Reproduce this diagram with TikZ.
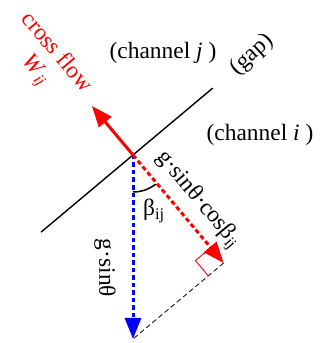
\documentclass[tikz,border=0pt]{standalone}
\usepackage{fontspec}
\setmainfont{Liberation Serif}
\usetikzlibrary{arrows.meta,calc}
\begin{document}
\begin{tikzpicture}[x=1bp,y=1bp,
  lbl/.style={font=\fontsize{23.5}{28}\selectfont, inner sep=0pt},
  redlbl/.style={lbl, text=red},
  bigtip/.style={-{Triangle[length=21bp,width=16bp]}},
  thickline/.style={line width=3bp},
  dotline/.style={line width=3bp, dash pattern=on 4.5bp off 3bp}]
\useasboundingbox (0,0) rectangle (320,343);
\coordinate (O) at (133,188);
\coordinate (GA) at ($(O)+(220:120)$);
\coordinate (GB) at ($(O)+(40:104)$);
\coordinate (Wt) at ($(O)+(130:64)$);
\coordinate (Gb) at (133,4);
\coordinate (F) at ($(O)+(-50:141)$);
\coordinate (P1) at ($(F)!20bp!(O)$);
\coordinate (P3) at ($(F)!20bp!(Gb)$);
\coordinate (P2) at ($(P1)+(P3)-(F)$);
% gap line
\draw[line width=1.4bp] (GA) -- (GB);
% right angle and projection
\draw[line width=0.8bp, dash pattern=on 5bp off 3bp] (F) -- (Gb);
\draw[red, line width=0.9bp] (P1) -- (P2) -- (P3);
% vectors
\draw[red, thickline, bigtip] (O) -- (Wt);
\draw[blue, dotline, bigtip] (O) -- (Gb);
\draw[red, dotline, bigtip] (O) -- (F);
% angle
\draw[line width=1.5bp] ($(O)+(-90:37)$) arc[start angle=-90, end angle=-52, radius=37];
% labels
\node[lbl, anchor=base] (chj) at (163,285) {(channel \textit{j} )};
\node[lbl, anchor=base] (chi) at (260,203) {(channel \textit{i} )};
\node[lbl, rotate=42] (gap) at (252,288) {(gap)};
\node[redlbl, rotate=-50] (cf) at (58,292) {cross flow};
\node[redlbl, rotate=-50] (wij) at (35,272) {\textit{W}\textsubscript{\textit{ij}}};
\node[lbl] (beta) at (154,132) {β\textsubscript{ij}};
\node[lbl, rotate=-90] (gs) at (105,75) {g·sinθ};
\node[lbl, rotate=-50] (gsc) at (198,143) {g·sinθ·cosβ\textsubscript{ij}};
\end{tikzpicture}
\end{document}
